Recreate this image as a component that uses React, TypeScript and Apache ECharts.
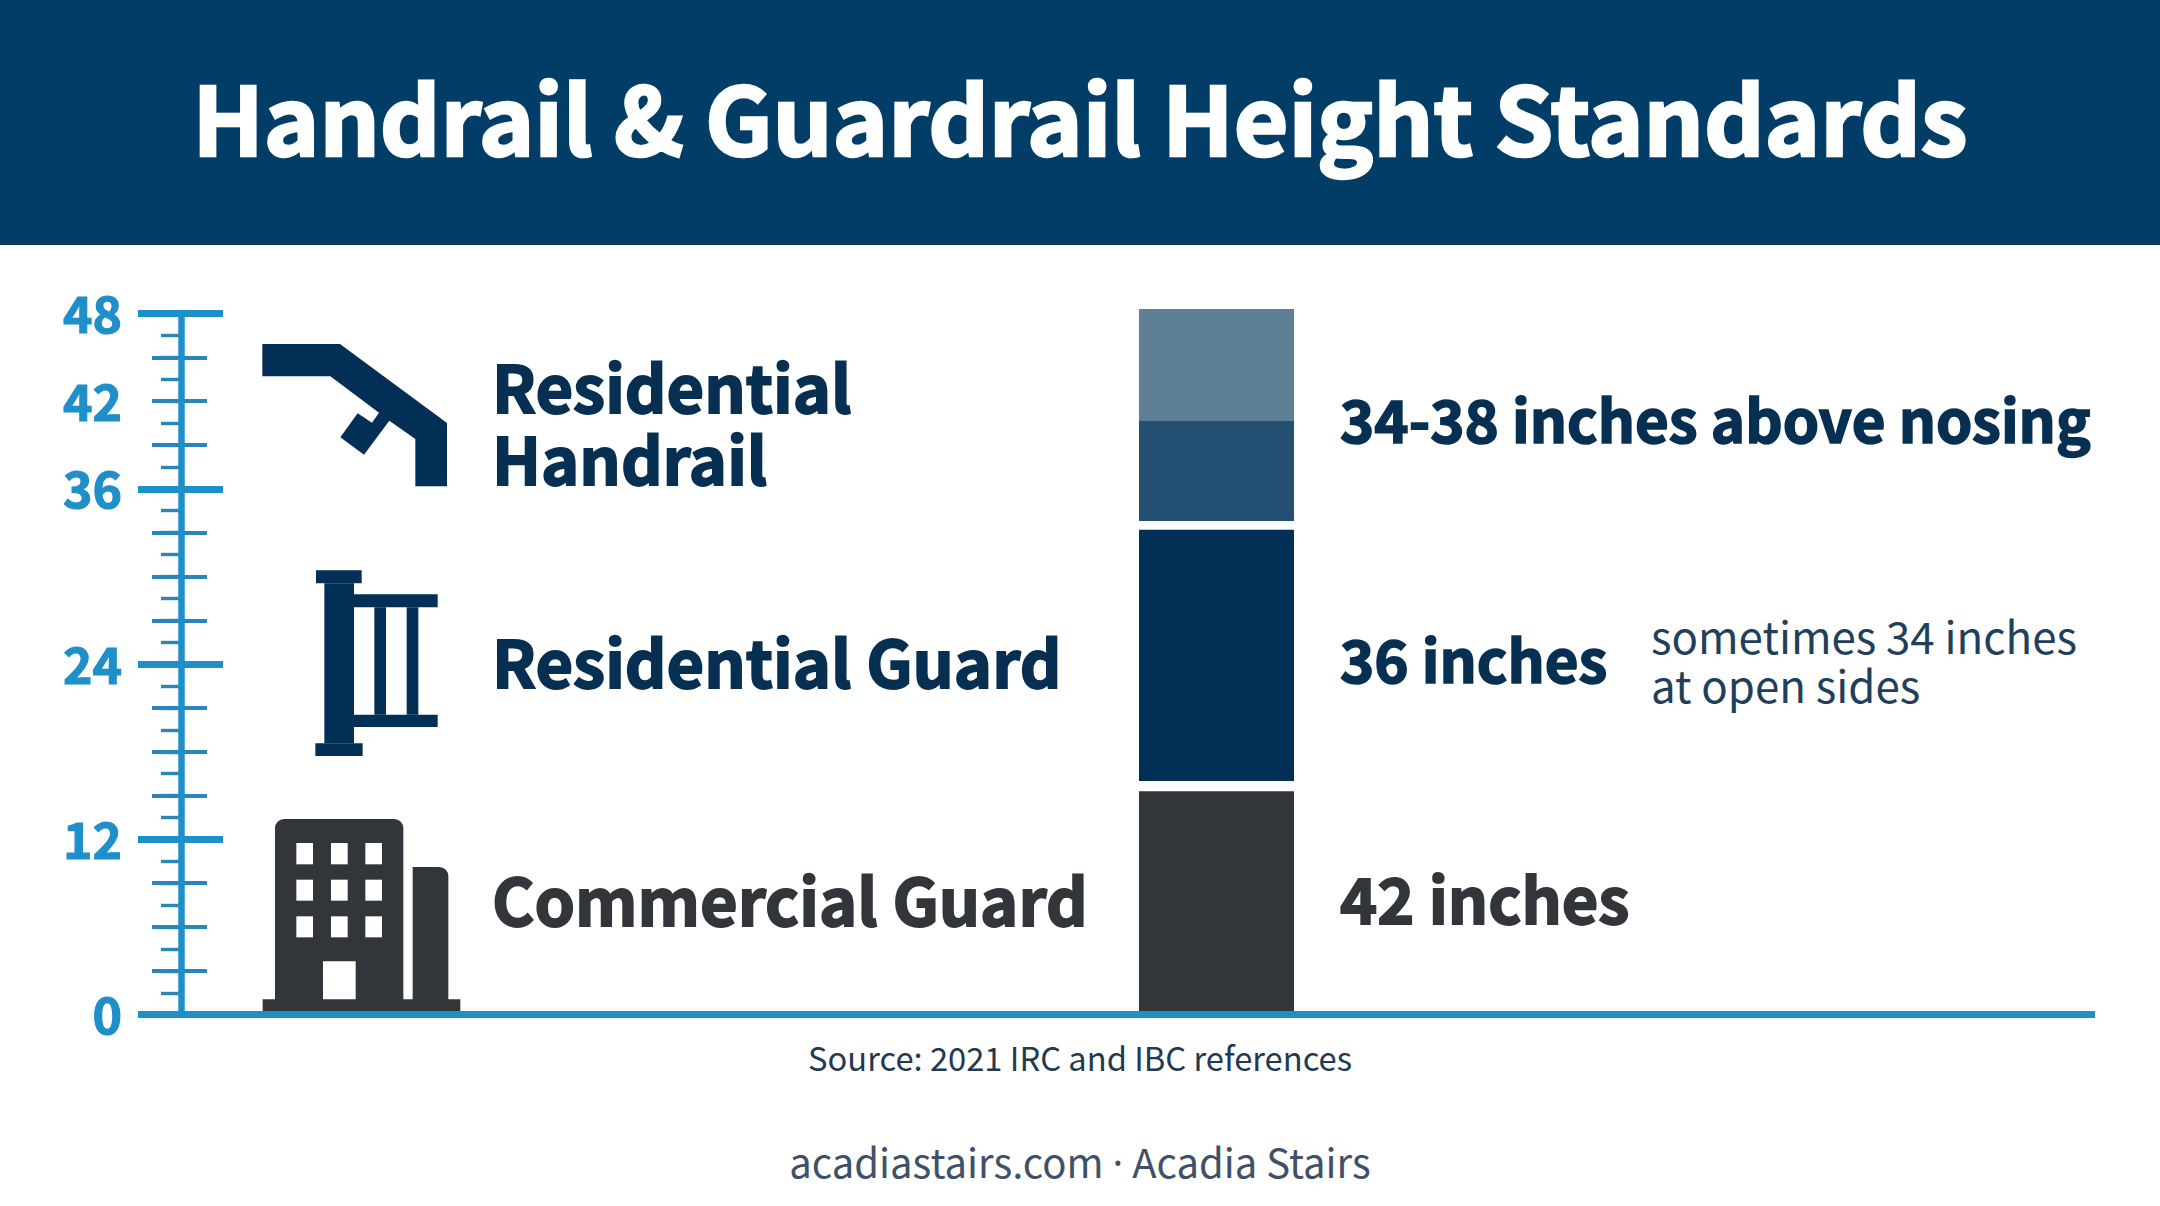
import { useEffect, useRef } from "react";
import * as echarts from "echarts";

const TITLE = "Handrail & Guardrail Height Standards";
const SOURCE = "Source: 2021 IRC and IBC references";
const FOOTER = ["acadiastairs.com", "·", "Acadia Stairs"];

const RULER_LABELS = [0, 12, 24, 36, 42, 48];
const RULER_MAX = 48;

// stacked from the floor up, the "gap" pieces are the white breaks in the bar
const BAR_SEGMENTS = ["Commercial Guard", "gap a", "Residential Guard", "gap b", "Residential Handrail low", "Residential Handrail high"];
const BAR_VALUES = [15.3, 0.7, 17.2, 0.6, 6.9, 7.6];

const ROW_NAMES = [["Residential", "Handrail"], ["Residential Guard"], ["Commercial Guard"]];
const ROW_VALUES = ["34-38 inches above nosing", "36 inches", "42 inches"];
const ROW_NOTE = ["sometimes 34 inches", "at open sides"];

const FONT = "'Noto Sans CJK SC', 'Noto Sans', sans-serif";
const BLUE = "#1f8fc9";
const NAVY = "#012f56";
const TEXT_NAVY = "#062f52";
const CHAR = "#32353a";
const SEGMENT_COLORS = [CHAR, "transparent", NAVY, "transparent", "#224f72", "#5f7f97"];

const GRID_TOP = 313.5;
const GRID_BOTTOM = 1206 - 1014.7;

function text(str: string, x: number, y: number, size: number, color: string, weight = 700, align = "left", rich?: object) {
  // the reference's bold is heavier than the installed one, a thin outline makes up for it
  const bold = weight === 700;
  return {
    type: "text",
    x,
    y,
    silent: true,
    style: {
      text: str,
      fontFamily: FONT,
      fontSize: size,
      fontWeight: weight,
      fill: color,
      align,
      verticalAlign: "middle",
      rich,
      stroke: bold ? color : undefined,
      lineWidth: bold ? size * 0.028 : 0,
    },
  };
}

function box(x: number, y: number, width: number, height: number, fill: string, r: number | number[] = 0) {
  return { type: "rect", shape: { x, y, width, height, r }, style: { fill }, silent: true };
}

// zoomed crop coordinates to page coordinates
const zx = (v: number) => v / 3;

function handrailIcon() {
  const pts = [
    [787, 252], [1020, 252], [1341, 489], [1341, 679], [1246, 679], [1246, 537], [1168, 482],
    [1092, 584], [1021, 532], [1073, 460], [1116, 488], [1137, 458], [991, 349], [787, 349],
  ];
  return { type: "polygon", silent: true, shape: { points: pts.map(([x, y]) => [zx(x), 260 + y / 3]) }, style: { fill: NAVY } };
}

function guardIcon() {
  const r = (x0: number, y0: number, x1: number, y1: number) =>
    box(zx(x0), 540 + y0 / 3, (x1 - x0) / 3, (y1 - y0) / 3, NAVY);
  return [
    r(948, 91, 1085, 130),
    r(973, 130, 1062, 610),
    r(946, 610, 1088, 648),
    r(1062, 163, 1313, 202),
    r(1062, 524, 1313, 561),
    r(1123, 202, 1158, 524),
    r(1220, 202, 1255, 524),
  ];
}

function buildingIcon() {
  const r = (x0: number, y0: number, x1: number, y1: number, fill: string, rad: number | number[] = 0) =>
    box(zx(x0), 800 + y0 / 3, (x1 - x0) / 3, (y1 - y0) / 3, fill, rad);
  const out = [
    r(825, 57, 1210, 600, CHAR, [9, 9, 0, 0]),
    r(1238, 201, 1345, 600, CHAR, [0, 9, 0, 0]),
    r(788, 598, 1381, 640, CHAR),
  ];
  for (const wy of [[129, 193], [239, 302], [349, 412]]) {
    for (const wx of [[889, 939], [993, 1043], [1096, 1146]]) {
      out.push(r(wx[0], wy[0], wx[1], wy[1], "#ffffff"));
    }
  }
  out.push(r(969, 484, 1067, 598, "#ffffff"));
  return out;
}

function rulerAxis(extra: object) {
  return {
    gridIndex: 0,
    type: "value",
    position: "left",
    min: 0,
    max: RULER_MAX,
    offset: -43,
    splitLine: { show: false },
    axisLabel: { show: false },
    axisLine: { show: false },
    ...extra,
  };
}

function ticks(interval: number, length: number, width: number, inside: boolean, color: string, z: number) {
  return rulerAxis({
    interval,
    z,
    axisTick: { show: true, inside, length, lineStyle: { color, width } },
  });
}

export default function App() {
  const ref = useRef<HTMLDivElement>(null);
  useEffect(() => {
    if (!ref.current) return;
    const chart = echarts.init(ref.current, undefined, { renderer: "svg" });
    const option = {
      animation: false,
      backgroundColor: "#ffffff",
      grid: [
        { left: 138, right: 65, top: GRID_TOP, bottom: GRID_BOTTOM },
        { left: 1139, width: 155, top: GRID_TOP, bottom: GRID_BOTTOM },
      ],
      xAxis: [
        {
          gridIndex: 0,
          type: "category",
          data: [""],
          z: 6,
          axisLine: { lineStyle: { color: BLUE, width: 7, cap: "butt" } },
          axisTick: { show: false },
          axisLabel: { show: false },
        },
        { gridIndex: 1, type: "category", data: ["Height"], show: false },
      ],
      yAxis: [
        ticks(1.5, 20, 3.4, false, "#2a86b8", 1),
        ticks(3, 29, 4, false, "#2a86b8", 2),
        ticks(3, 26, 4, true, "#2a86b8", 2),
        ticks(12, 42, 7, true, BLUE, 3),
        rulerAxis({
          interval: 12,
          z: 4,
          axisLine: { show: true, lineStyle: { color: BLUE, width: 6.5, cap: "butt" } },
          axisTick: { show: true, length: 43, lineStyle: { color: BLUE, width: 7 } },
          axisLabel: {
            show: true,
            customValues: RULER_LABELS,
            margin: 59,
            color: BLUE,
            fontFamily: FONT,
            fontWeight: 700,
            fontSize: 50,
            verticalAlign: "bottom",
            lineHeight: 5,
            textBorderColor: BLUE,
            textBorderWidth: 1.2,
          },
        }),
        { gridIndex: 1, type: "value", min: 0, max: RULER_MAX, show: false },
      ],
      series: BAR_SEGMENTS.map((name, i) => ({
        name,
        type: "bar",
        stack: "height",
        xAxisIndex: 1,
        yAxisIndex: 5,
        barWidth: "100%",
        clip: false,
        silent: true,
        itemStyle: { color: SEGMENT_COLORS[i] },
        data: [BAR_VALUES[i]],
      })),
      graphic: [
        box(0, 0, 2160, 245, "#013d66"),
        text(TITLE, 1080, 115, 94.2, "#ffffff", 700, "center"),
        handrailIcon(),
        ...guardIcon(),
        ...buildingIcon(),
        text(ROW_NAMES[0][0], 492, 385, 64.8, TEXT_NAVY),
        text(ROW_NAMES[0][1], 492, 457, 64.8, TEXT_NAVY),
        text(ROW_NAMES[1][0], 492, 660, 64.8, TEXT_NAVY),
        text(ROW_NAMES[2][0], 492, 898, 64.8, CHAR),
        text(ROW_VALUES[0], 1340, 417, 58.2, TEXT_NAVY),
        text(ROW_VALUES[1], 1340, 657, 58.2, TEXT_NAVY),
        text(ROW_VALUES[2], 1340, 896, 63, CHAR),
        text(ROW_NOTE[0], 1651, 635, 43.8, "#1f3f5c", 400),
        text(ROW_NOTE[1], 1651, 684, 43.8, "#1f3f5c", 400),
        text(SOURCE, 1080, 1056, 32.7, "#1f3a52", 400, "center"),
        text(`${FOOTER[0]} {dot|${FOOTER[1]}} ${FOOTER[2]}`, 1080, 1161, 40, "#3f5168", 400, "center", {
          dot: { fontFamily: "'Noto Sans', sans-serif", fontSize: 40, fill: "#3f5168" },
        }),
      ],
    };
    chart.setOption(option as echarts.EChartsOption);
    return () => chart.dispose();
  }, []);
  return <div ref={ref} style={{ position: "absolute", left: 0, top: 0, width: 2160, height: 1206 }} />;
}
